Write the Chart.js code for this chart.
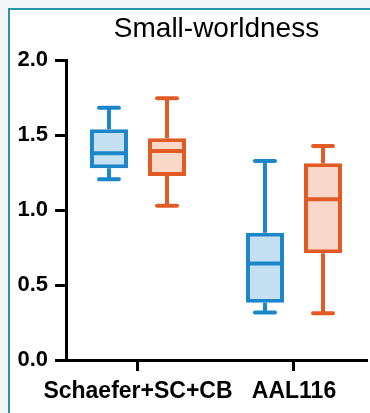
<!DOCTYPE html>
<html>
<head>
<meta charset="utf-8">
<script src="https://cdn.jsdelivr.net/npm/chart.js@4.4.1/dist/chart.umd.min.js"></script>
<style>
  html, body { margin: 0; padding: 0; background: #f3f6f7; overflow: hidden; }
  #panel { position: absolute; left: 8px; top: 8px; width: 420px; height: 460px; background: #fff;
           border-top: 2px solid #2a95a8; border-left: 2px solid #2a95a8; }
  #wrap { position: absolute; left: 0; top: 0; width: 370px; height: 413px; }
</style>
</head>
<body>
<div id="panel"></div>
<div id="wrap"><canvas id="chart" width="370" height="413"></canvas></div>
<script>
const categories = ['Schaefer+SC+CB', 'AAL116'];
const categoryPos = [1, 2];
const yTicks = [0, 0.5, 1.0, 1.5, 2.0];

// series 1 (blue)
const blueMin = [1.205, 0.316];
const blueQ1 = [1.278, 0.382];
const blueMedian = [1.378, 0.644];
const blueQ3 = [1.538, 0.849];
const blueMax = [1.682, 1.327];

// series 2 (orange)
const orangeMin = [1.029, 0.311];
const orangeQ1 = [1.227, 0.711];
const orangeMedian = [1.393, 1.071];
const orangeQ3 = [1.478, 1.311];
const orangeMax = [1.745, 1.427];

const xFont = { family: 'Liberation Sans', size: 23, weight: 'bold' };
const yFont = { family: 'Liberation Sans', size: 22, weight: 'bold' };

function boxData(q1, q3) {
  return categoryPos.map((x, i) => ({ x: x, y: [q1[i], q3[i]] }));
}

// whiskers, caps and medians drawn on top of the floating bars
const whiskerPlugin = {
  id: 'whiskers',
  afterDatasetsDraw(chart) {
    const ctx = chart.ctx;
    const yScale = chart.scales.y;
    chart.data.datasets.forEach((ds, di) => {
      const meta = chart.getDatasetMeta(di);
      meta.data.forEach((bar, i) => {
        const x = bar.x;
        const half = bar.width / 2;
        const yMin = yScale.getPixelForValue(ds.whiskerMin[i]);
        const yMax = yScale.getPixelForValue(ds.whiskerMax[i]);
        const yQ1 = yScale.getPixelForValue(ds.data[i].y[0]);
        const yQ3 = yScale.getPixelForValue(ds.data[i].y[1]);
        const yMed = yScale.getPixelForValue(ds.median[i]);
        ctx.save();
        ctx.strokeStyle = ds.borderColor;
        ctx.lineWidth = 4;
        ctx.lineCap = 'butt';
        ctx.beginPath();
        ctx.moveTo(x - half + 1, yMed);
        ctx.lineTo(x + half - 1, yMed);
        ctx.moveTo(x, yQ3);
        ctx.lineTo(x, yMax);
        ctx.moveTo(x, yQ1);
        ctx.lineTo(x, yMin);
        ctx.stroke();
        ctx.lineCap = 'round';
        ctx.beginPath();
        ctx.moveTo(x - 10, yMax);
        ctx.lineTo(x + 10, yMax);
        ctx.moveTo(x - 10, yMin);
        ctx.lineTo(x + 10, yMin);
        ctx.stroke();
        ctx.restore();
      });
    });
  }
};

const ctx = document.getElementById('chart').getContext('2d');

new Chart(ctx, {
  type: 'bar',
  data: {
    datasets: [
      {
        label: 'Series 1',
        data: boxData(blueQ1, blueQ3),
        whiskerMin: blueMin,
        whiskerMax: blueMax,
        median: blueMedian,
        backgroundColor: '#c5e0f2',
        borderColor: '#1b86c8',
        borderWidth: 4,
        borderSkipped: false,
        categoryPercentage: 0.744,
        barPercentage: 0.655
      },
      {
        label: 'Series 2',
        data: boxData(orangeQ1, orangeQ3),
        whiskerMin: orangeMin,
        whiskerMax: orangeMax,
        median: orangeMedian,
        backgroundColor: '#f9d7c9',
        borderColor: '#e15b25',
        borderWidth: 4,
        borderSkipped: false,
        categoryPercentage: 0.744,
        barPercentage: 0.655
      }
    ]
  },
  options: {
    responsive: false,
    animation: false,
    layout: { padding: { left: 0, top: 0, bottom: 0, right: 3 } },
    plugins: {
      legend: { display: false },
      tooltip: { enabled: false },
      title: {
        display: true,
        text: 'Small-worldness',
        fullSize: false,
        color: '#000',
        font: { family: 'Liberation Sans', size: 28, weight: 'normal' },
        padding: { top: 12, bottom: 14.4 }
      }
    },
    scales: {
      x: {
        type: 'linear',
        offset: false,
        min: 0.5385,
        max: 2.468,
        afterBuildTicks: s => { s.ticks = categoryPos.map(v => ({ value: v })); },
        afterFit: s => { s.height = 53; },
        ticks: {
          callback: (v, i) => categories[i],
          autoSkip: false,
          maxRotation: 0,
          color: '#000',
          font: xFont,
          padding: 7
        },
        grid: { offset: false, drawOnChartArea: false, drawTicks: true, tickLength: 11, tickWidth: 3, tickColor: '#000' },
        border: { display: true, width: 3, color: '#000' }
      },
      y: {
        min: 0,
        max: 2,
        afterBuildTicks: s => { s.ticks = yTicks.map(v => ({ value: v })); },
        afterFit: s => { s.width = 66; },
        ticks: {
          callback: v => v.toFixed(1),
          color: '#000',
          font: yFont,
          padding: 7
        },
        grid: { drawOnChartArea: false, drawTicks: true, tickLength: 11, tickWidth: 3, tickColor: '#000' },
        border: { display: true, width: 3, color: '#000' }
      }
    }
  },
  plugins: [whiskerPlugin]
});
</script>
</body>
</html>
